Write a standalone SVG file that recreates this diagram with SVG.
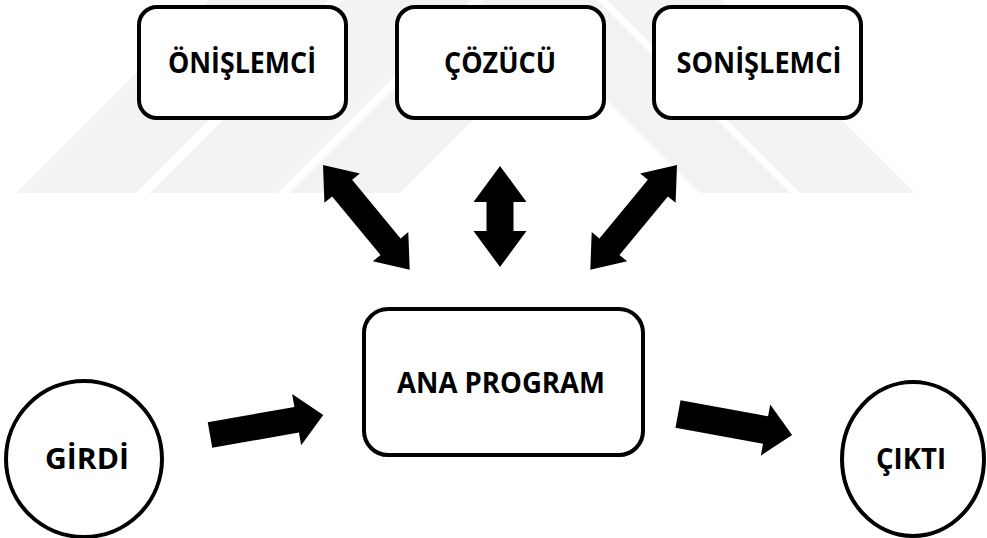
<svg xmlns="http://www.w3.org/2000/svg" width="987" height="538" viewBox="0 0 987 538">
<style>
.box{fill:#fff;stroke:#000;stroke-width:4}
.lbl{font-family:"Open Sans","Liberation Sans",sans-serif;font-weight:bold;font-size:29px;fill:#000;text-anchor:middle}
.arr{fill:#000}
.wm{fill:#f3f3f3}
</style>
<rect width="987" height="538" fill="#fff"/>
<g id="watermark">
<polygon class="wm" points="16,193 136,193 329,0 209,0"/>
<polygon class="wm" points="150,193 278,193 471,0 343,0"/>
<polygon class="wm" points="290,193 400,193 593,0 483,0"/>
<polygon class="wm" points="700,193 790,193 597,0 507,0"/>
<polygon class="wm" points="800,193 915,193 722,0 607,0"/>
</g>
<g id="onislemci">
<rect class="box" x="139" y="7" width="207" height="111" rx="18"/>
<text class="lbl" x="242" y="73" textLength="148" lengthAdjust="spacingAndGlyphs">ÖNİŞLEMCİ</text>
</g>
<g id="cozucu">
<rect class="box" x="397" y="7" width="207" height="111" rx="18"/>
<text class="lbl" x="500" y="73" textLength="112" lengthAdjust="spacingAndGlyphs">ÇÖZÜCÜ</text>
</g>
<g id="sonislemci">
<rect class="box" x="654" y="7" width="207" height="111" rx="18"/>
<text class="lbl" x="759" y="73" textLength="165" lengthAdjust="spacingAndGlyphs">SONİŞLEMCİ</text>
</g>
<g id="anaprogram">
<rect class="box" x="364" y="309" width="279" height="146" rx="24"/>
<text class="lbl" x="501" y="393" textLength="208" lengthAdjust="spacingAndGlyphs">ANA PROGRAM</text>
</g>
<g id="girdi">
<ellipse class="box" cx="84" cy="459" rx="78" ry="78"/>
<text class="lbl" x="87" y="469" textLength="84" lengthAdjust="spacingAndGlyphs">GİRDİ</text>
</g>
<g id="cikti">
<ellipse class="box" cx="913" cy="459" rx="71" ry="77"/>
<text class="lbl" x="911" y="469" textLength="70" lengthAdjust="spacingAndGlyphs">ÇIKTI</text>
</g>
<g id="connectors">
<path class="arr" transform="translate(323,165) rotate(50.4)" d="M0,0 L30,-23 L30,-13 L106,-13 L106,-23 L136,0 L106,23 L106,13 L30,13 L30,23 Z"/>
<path class="arr" transform="translate(677,165) rotate(129.6)" d="M0,0 L30,-23 L30,-13 L106,-13 L106,-23 L136,0 L106,23 L106,13 L30,13 L30,23 Z"/>
<path class="arr" transform="translate(500,166) rotate(90)" d="M0,0 L36,-26.5 L36,-13.5 L65,-13.5 L65,-26.5 L101,0 L65,26.5 L65,13.5 L36,13.5 L36,26.5 Z"/>
<path class="arr" transform="translate(210,435) rotate(-10)" d="M0,-13 L88,-13 L88,-26 L115,0 L88,26 L88,13 L0,13 Z"/>
<path class="arr" transform="translate(678,414) rotate(10.4)" d="M0,-14 L89,-14 L89,-26 L116,0 L89,26 L89,14 L0,14 Z"/>
</g>
</svg>
